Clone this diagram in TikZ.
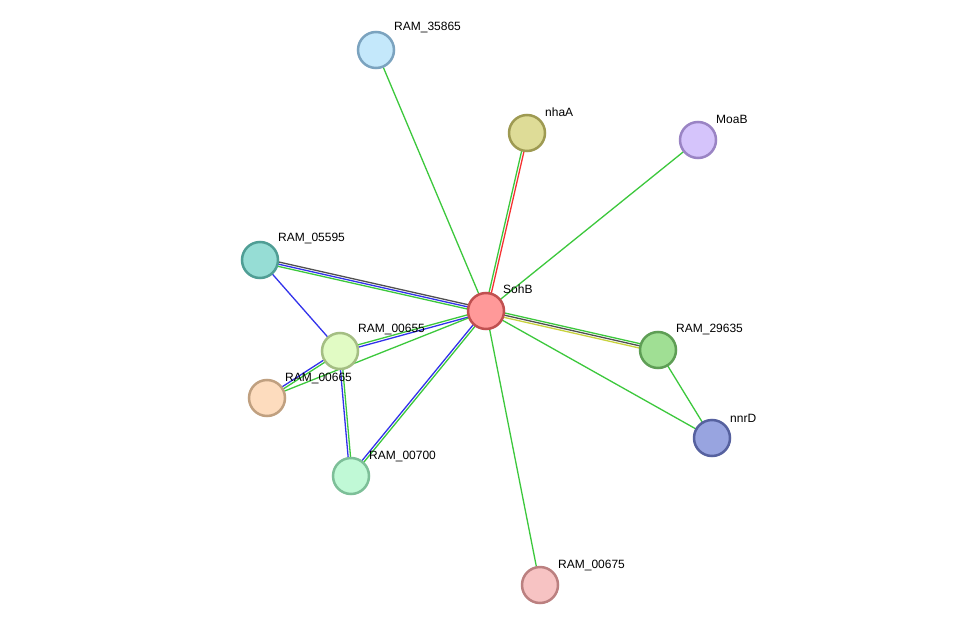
\documentclass[tikz,border=0pt]{standalone}
\usepackage{fontspec}
\setmainfont{Liberation Sans}
\usetikzlibrary{calc,backgrounds}
\definecolor{eg}{RGB}{60,200,60}
\definecolor{eb}{RGB}{50,50,235}
\definecolor{ek}{RGB}{80,80,80}
\definecolor{er}{RGB}{245,50,50}
\definecolor{ey}{RGB}{200,210,60}
\newcommand\stredge[4]{\draw[edge,#4] ($(#1.center)!#3!90:(#2.center)$) -- ($(#2.center)!#3!-90:(#1.center)$);}
\begin{document}
\begin{tikzpicture}[x=1pt,y=-1pt,
  prot/.style={circle,minimum size=36pt,inner sep=0pt,line width=2.5pt},
  lab/.style={anchor=west,font=\fontsize{12}{14}\selectfont,inner sep=0pt},
  edge/.style={line width=1.3pt}]
\useasboundingbox (0,0) rectangle (976,631);
% proteins
\node[prot,fill={rgb,255:red,255;green,153;blue,153},draw={rgb,255:red,192;green,80;blue,80}] (sohb) at (486,311) {};
\node[prot,fill={rgb,255:red,196;green,232;blue,251},draw={rgb,255:red,123;green,163;blue,191}] (r35865) at (376,50) {};
\node[prot,fill={rgb,255:red,222;green,220;blue,151},draw={rgb,255:red,158;green,154;blue,82}] (nhaa) at (527,133) {};
\node[prot,fill={rgb,255:red,213;green,196;blue,251},draw={rgb,255:red,154;green,132;blue,196}] (moab) at (698,140) {};
\node[prot,fill={rgb,255:red,150;green,221;blue,213},draw={rgb,255:red,79;green,158;blue,149}] (r05595) at (260,260) {};
\node[prot,fill={rgb,255:red,225;green,251;blue,196},draw={rgb,255:red,164;green,190;blue,131}] (r00655) at (340,351) {};
\node[prot,fill={rgb,255:red,253;green,220;blue,190},draw={rgb,255:red,192;green,160;blue,128}] (r00665) at (267,398) {};
\node[prot,fill={rgb,255:red,192;green,249;blue,214},draw={rgb,255:red,125;green,191;blue,152}] (r00700) at (351,476) {};
\node[prot,fill={rgb,255:red,160;green,223;blue,148},draw={rgb,255:red,94;green,158;blue,85}] (r29635) at (658,350) {};
\node[prot,fill={rgb,255:red,152;green,164;blue,224},draw={rgb,255:red,86;green,97;blue,159}] (nnrd) at (712,438) {};
\node[prot,fill={rgb,255:red,247;green,195;blue,195},draw={rgb,255:red,187;green,128;blue,128}] (r00675) at (540,585) {};
% labels
\node[lab] (l-sohb) at ($(sohb.center)+(17,-22)$) {SohB};
\node[lab] (l-r35865) at ($(r35865.center)+(18,-22)$) {RAM\_35865};
\node[lab] (l-nhaa) at ($(nhaa.center)+(18,-21)$) {nhaA};
\node[lab] (l-moab) at ($(moab.center)+(18,-21)$) {MoaB};
\node[lab] (l-r05595) at ($(r05595.center)+(18,-21)$) {RAM\_05595};
\node[lab] (l-r00655) at ($(r00655.center)+(18,-21)$) {RAM\_00655};
\node[lab] (l-r00665) at ($(r00665.center)+(18,-20)$) {RAM\_00665};
\node[lab] (l-r00700) at ($(r00700.center)+(18,-20)$) {RAM\_00700};
\node[lab] (l-r29635) at ($(r29635.center)+(18,-20)$) {RAM\_29635};
\node[lab] (l-nnrd) at ($(nnrd.center)+(18,-20)$) {nnrD};
\node[lab] (l-r00675) at ($(r00675.center)+(18,-20)$) {RAM\_00675};
% edges
\begin{scope}[on background layer]
\fill[white] (0,0) rectangle (976,631);
\stredge{sohb}{r35865}{0pt}{eg}
\stredge{sohb}{nhaa}{1.2pt}{eg}
\stredge{sohb}{nhaa}{-1.2pt}{er}
\stredge{sohb}{moab}{0pt}{eg}
\stredge{sohb}{r05595}{-2.2pt}{ek}
\stredge{sohb}{r05595}{0pt}{eb}
\stredge{sohb}{r05595}{2.2pt}{eg}
\stredge{sohb}{r00655}{-1.2pt}{eg}
\stredge{sohb}{r00655}{1.2pt}{eb}
\stredge{sohb}{r00665}{0pt}{eg}
\stredge{sohb}{r00700}{-1.2pt}{eb}
\stredge{sohb}{r00700}{1.2pt}{eg}
\stredge{r00655}{r00700}{-1.2pt}{eb}
\stredge{r00655}{r00700}{1.2pt}{eg}
\stredge{r00655}{r00665}{-1.2pt}{eb}
\stredge{r00655}{r00665}{1.2pt}{eg}
\stredge{r05595}{r00655}{0pt}{eb}
\stredge{sohb}{r29635}{2.2pt}{eg}
\stredge{sohb}{r29635}{0pt}{ek}
\stredge{sohb}{r29635}{-2.2pt}{ey}
\stredge{sohb}{nnrd}{0pt}{eg}
\stredge{sohb}{r00675}{0pt}{eg}
\stredge{r29635}{nnrd}{0pt}{eg}
\end{scope}
\end{tikzpicture}
\end{document}
